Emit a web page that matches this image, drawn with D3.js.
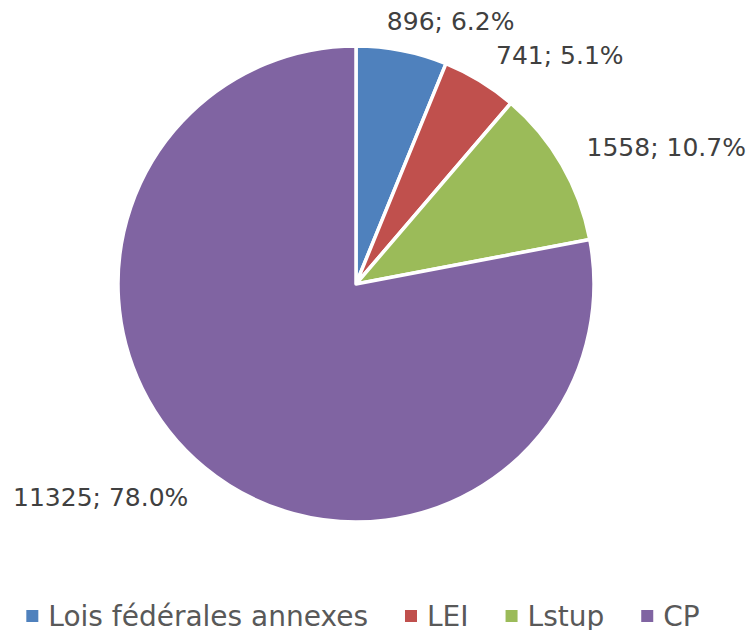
<!DOCTYPE html>
<html>
<head>
<meta charset="utf-8">
<script src="https://d3js.org/d3.v7.min.js"></script>
<style>
  body { margin: 0; background: #fff; }
  svg { display: block; }
</style>
</head>
<body>
<script>
// chart data
const categories = ['Lois fédérales annexes', 'LEI', 'Lstup', 'CP'];
const values = [896, 741, 1558, 11325];
const percents = ['6.2%', '5.1%', '10.7%', '78.0%'];
const colors = ['#4F81BD', '#C0504D', '#9BBB59', '#8064A2'];

const w = 747, h = 630;
const cx = 356, cy = 284, r = 238;

const svg = d3.select('body').append('svg')
  .attr('width', w)
  .attr('height', h);

const pie = d3.pie().sort(null).value(d => d);
const arcs = pie(values);
const arc = d3.arc().innerRadius(0).outerRadius(r);

const g = svg.append('g').attr('transform', `translate(${cx},${cy})`);

g.selectAll('path')
  .data(arcs)
  .enter()
  .append('path')
  .attr('d', arc)
  .attr('fill', (d, i) => colors[i])
  .attr('stroke', '#fff')
  .attr('stroke-width', 3.5)
  .attr('stroke-linejoin', 'round');

// data labels, placed outside the slice at its mid angle
const labelR = 263;
const labels = g.selectAll('text.lbl')
  .data(arcs)
  .enter()
  .append('text')
  .attr('class', 'lbl')
  .style('font-family', '"DejaVu Sans", Verdana, sans-serif')
  .style('font-size', '25px')
  .style('fill', '#404040')
  .text((d, i) => values[i] + '; ' + percents[i]);

labels.each(function(d) {
  const a = (d.startAngle + d.endAngle) / 2;
  const px = labelR * Math.sin(a);
  const py = -labelR * Math.cos(a);
  const tw = this.getComputedTextLength();
  const s = Math.abs(Math.sin(a));
  const f = Math.max(0, 0.5 * (1 - s / 0.3));
  let x, y;
  if (px >= 0) x = px - f * tw + 3;
  else x = px + f * tw - tw;
  if (py < 0) y = py + 4;
  else y = py + 19;
  d3.select(this).attr('x', x).attr('y', y);
});

// legend
const legend = svg.append('g');
let lx = 0;
categories.forEach((c, i) => {
  const item = legend.append('g').attr('transform', `translate(${lx},0)`);
  item.append('rect')
    .attr('x', 0)
    .attr('y', 610)
    .attr('width', 12)
    .attr('height', 12)
    .attr('fill', colors[i]);
  const t = item.append('text')
    .attr('x', 22)
    .attr('y', 626)
    .style('font-family', '"DejaVu Sans", Verdana, sans-serif')
    .style('font-size', '28px')
    .style('fill', '#595959')
    .text(c);
  lx += 22 + t.node().getComputedTextLength() + 37;
});
const legW = lx - 37;
legend.attr('transform', `translate(${363 - legW / 2},0)`);
</script>
</body>
</html>
